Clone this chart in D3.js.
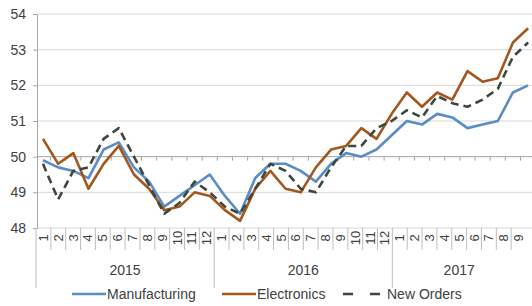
<!DOCTYPE html>
<html>
<head>
<meta charset="utf-8">
<script src="https://cdn.jsdelivr.net/npm/d3@7"></script>
<style>
  body { margin: 0; background: #fff; }
  text { font-family: "Liberation Sans", Arial, sans-serif; fill: #404040; }
</style>
</head>
<body>
<svg id="chart" width="532" height="306"></svg>
<script>
var years = ["2015", "2016", "2017"];
var monthsPerYear = [12, 12, 9];
var yTicks = [48, 49, 50, 51, 52, 53, 54];

var manufacturing = [49.9, 49.7, 49.6, 49.4, 50.2, 50.4, 49.7, 49.3, 48.6, 48.9, 49.2, 49.5,
                     48.9, 48.4, 49.4, 49.8, 49.8, 49.6, 49.3, 49.8, 50.1, 50.0, 50.2, 50.6,
                     51.0, 50.9, 51.2, 51.1, 50.8, 50.9, 51.0, 51.8, 52.0];
var electronics   = [50.5, 49.8, 50.1, 49.1, 49.8, 50.3, 49.5, 49.1, 48.5, 48.6, 49.0, 48.9,
                     48.5, 48.2, 49.1, 49.6, 49.1, 49.0, 49.7, 50.2, 50.3, 50.8, 50.5, 51.2,
                     51.8, 51.4, 51.8, 51.6, 52.4, 52.1, 52.2, 53.2, 53.6];
var newOrders     = [49.8, 48.8, 49.6, 49.7, 50.5, 50.8, 50.0, 49.2, 48.4, 48.7, 49.3, 49.0,
                     48.6, 48.4, 49.1, 49.8, 49.6, 49.1, 49.0, 49.7, 50.3, 50.3, 50.8, 51.0,
                     51.3, 51.1, 51.7, 51.5, 51.4, 51.6, 51.9, 52.8, 53.2];

var series = [
  { name: "Manufacturing", values: manufacturing, color: "#5a8cc6", dash: null },
  { name: "Electronics", values: electronics, color: "#a3561d", dash: null },
  { name: "New Orders", values: newOrders, color: "#3e473e", dash: "8,5" }
];

// categories: one per month
var cats = [];
years.forEach(function(yr, k) {
  for (var m = 1; m <= monthsPerYear[k]; m++) cats.push({ key: yr + "-" + m, year: yr, month: m });
});

var svg = d3.select("#chart");
var plotTop = 14, plotBottom = 228, plotLeft = 37;

var x = d3.scaleBand().domain(cats.map(function(d) { return d.key; })).range([35.4, 535.7]);
var xLab = d3.scaleBand().domain(cats.map(function(d) { return d.key; })).range([36, 526]);
var y = d3.scaleLinear().domain([48, 54]).range([plotBottom, plotTop]);

// gridlines
svg.append("g").selectAll("line").data(yTicks).enter().append("line")
  .attr("x1", plotLeft).attr("x2", 532)
  .attr("y1", function(d) { return y(d); }).attr("y2", function(d) { return y(d); })
  .attr("stroke", function(d) { return d === 50 ? "#a6a6a6" : "#d9d9d9"; })
  .attr("stroke-width", 1);

// y axis
var yAxis = svg.append("g").attr("transform", "translate(" + plotLeft + ",0)")
  .call(d3.axisLeft(y).tickValues(yTicks).tickSize(4).tickPadding(7).tickFormat(d3.format("d")));
yAxis.select(".domain").attr("stroke", "#a6a6a6");
yAxis.selectAll(".tick line").attr("stroke", "#a6a6a6");
yAxis.selectAll("text").style("font-size", "14px").style("fill", "#404040")
  .style("font-family", "Liberation Sans, Arial, sans-serif");

// horizontal axis crossing at 50 with ticks between categories
svg.append("g").selectAll("line").data(cats.slice(1)).enter().append("line")
  .attr("x1", function(d) { return x(d.key); }).attr("x2", function(d) { return x(d.key); })
  .attr("y1", y(50)).attr("y2", y(50) + 4)
  .attr("stroke", "#a6a6a6");

// category labels at bottom
var lab = svg.append("g");
lab.selectAll("line.sep").data(cats).enter().append("line")
  .attr("class", "sep")
  .attr("x1", function(d) { return xLab(d.key); }).attr("x2", function(d) { return xLab(d.key); })
  .attr("y1", plotBottom).attr("y2", function(d) { return d.month === 1 ? 288 : 250; })
  .attr("stroke", "#bfbfbf");
lab.selectAll("text.m").data(cats).enter().append("text")
  .attr("class", "m")
  .attr("transform", function(d) {
    return "translate(" + (xLab(d.key) + xLab.bandwidth() / 2 + 4.5) + ",238) rotate(-90)";
  })
  .attr("text-anchor", "middle")
  .style("font-size", "13px")
  .text(function(d) { return d.month; });

var yearPos = years.map(function(yr, k) {
  var first = cats.filter(function(d) { return d.year === yr; });
  var x0 = xLab(first[0].key), x1 = xLab(first[first.length - 1].key) + xLab.bandwidth();
  return { year: yr, cx: (x0 + x1) / 2 };
});
lab.selectAll("text.yr").data(yearPos).enter().append("text")
  .attr("class", "yr")
  .attr("x", function(d) { return d.cx; }).attr("y", 275)
  .attr("text-anchor", "middle")
  .style("font-size", "14px")
  .text(function(d) { return d.year; });

// lines
var line = d3.line()
  .x(function(d, i) { return x(cats[i].key) + x.bandwidth() / 2; })
  .y(function(d) { return y(d); });

svg.append("g").selectAll("path").data(series).enter().append("path")
  .attr("d", function(s) { return line(s.values); })
  .attr("fill", "none")
  .attr("stroke", function(s) { return s.color; })
  .attr("stroke-width", 2.6)
  .attr("stroke-linejoin", "round")
  .attr("stroke-dasharray", function(s) { return s.dash; });

// legend
var legendX = [72, 222, 343];
var leg = svg.append("g").selectAll("g").data(series).enter().append("g")
  .attr("transform", function(s, i) { return "translate(" + legendX[i] + ",294)"; });
leg.append("line")
  .attr("x1", 0).attr("x2", function(s) { return s.dash ? 40 : 34; })
  .attr("y1", 0).attr("y2", 0)
  .attr("stroke", function(s) { return s.color; })
  .attr("stroke-width", 2.6)
  .attr("stroke-dasharray", function(s) { return s.dash ? "10,17" : null; });
leg.append("text")
  .attr("x", function(s) { return s.dash ? 44 : 35; }).attr("y", 5)
  .style("font-size", "14px")
  .text(function(s) { return s.name; });
</script>
</body>
</html>
